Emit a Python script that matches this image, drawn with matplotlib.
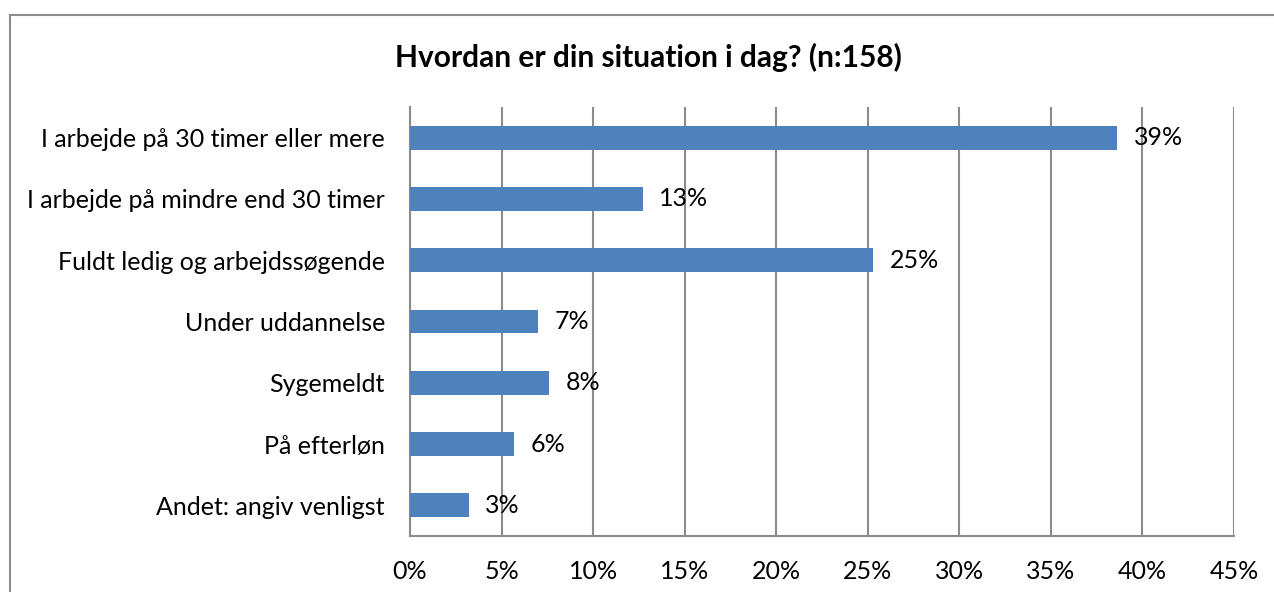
import matplotlib.pyplot as plt
from matplotlib.patches import Rectangle
from matplotlib.ticker import MultipleLocator, PercentFormatter

TITLE = "Hvordan er din situation i dag? (n:158)"

CATEGORIES = [
    "I arbejde på 30 timer eller mere",
    "I arbejde på mindre end 30 timer",
    "Fuldt ledig og arbejdssøgende",
    "Under uddannelse",
    "Sygemeldt",
    "På efterløn",
    "Andet: angiv venligst",
]
SHARES = [38.6, 12.7, 25.3, 7.0, 7.6, 5.7, 3.2]
VALUE_LABELS = ["39%", "13%", "25%", "7%", "8%", "6%", "3%"]

BAR_COLOR = "#4F81BD"
GRID_COLOR = "#8C8C8C"
FONT = ["Lato", "DejaVu Sans"]
LABEL_SIZE = 18

W, H = 1274, 592
fig = plt.figure(figsize=(W / 100, H / 100), dpi=100)
plt.rcParams["font.family"] = FONT

# outer chart frame (runs off the right and bottom edge of the picture)
fig.patches.append(
    Rectangle((10 / W, -0.1), 1.2, 1 - 15 / H + 0.1, transform=fig.transFigure,
              fill=False, edgecolor="#8C8C8C", linewidth=1.5, zorder=0)
)

left, right, top, bottom = 410, 1234, 107, 536
ax = fig.add_axes([left / W, 1 - bottom / H, (right - left) / W, (bottom - top) / H])

y = list(range(len(CATEGORIES)))
ax.barh(y, SHARES, height=0.39, color=BAR_COLOR, zorder=3)
ax.set_ylim(len(CATEGORIES) - 0.5, -0.5)
ax.set_xlim(0, 45)
ax.xaxis.set_major_locator(MultipleLocator(5))
ax.xaxis.set_major_formatter(PercentFormatter(decimals=0))

ax.set_yticks(y)
ax.set_yticklabels(CATEGORIES)
ax.tick_params(axis="both", length=0, labelsize=LABEL_SIZE, colors="black")
ax.tick_params(axis="y", pad=18)
ax.tick_params(axis="x", pad=17)

ax.grid(axis="x", color=GRID_COLOR, linewidth=1.5, zorder=0)
for side in ["top", "right"]:
    ax.spines[side].set_visible(False)
for side in ["left", "bottom"]:
    ax.spines[side].set_color(GRID_COLOR)
    ax.spines[side].set_linewidth(1.5)

for yi, value, label in zip(y, SHARES, VALUE_LABELS):
    ax.annotate(label, (value, yi), xytext=(12, 0), textcoords="offset points",
                ha="left", va="center", fontsize=LABEL_SIZE, zorder=4)

fig.text(648 / W, 1 - 57 / H, TITLE, ha="center", va="center",
         fontsize=21.5, fontweight="bold")

fig.savefig("out.png", dpi=100, facecolor="white")
